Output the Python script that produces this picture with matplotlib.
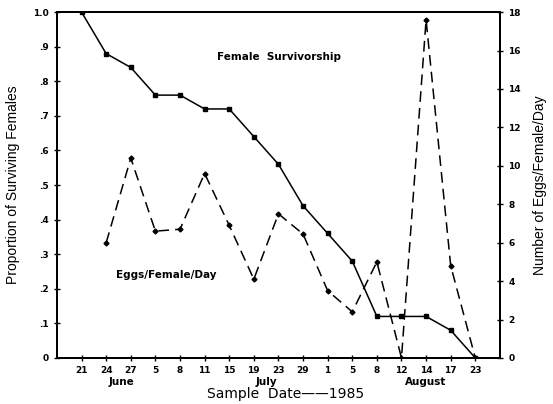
import matplotlib.pyplot as plt
import numpy as np

plt.rcParams.update({
    "font.family": ["DejaVu Sans"],
    "font.size": 7,
})

dates = ["21", "24", "27", "5", "8", "11", "15", "19", "23", "29",
         "1", "5", "8", "12", "14", "17", "23"]
survival = [1.0, 0.88, 0.84, 0.76, 0.76, 0.72, 0.72, 0.64, 0.56, 0.44,
            0.36, 0.28, 0.12, 0.12, 0.12, 0.08, 0.0]
# eggs start at the second sample date
eggs = [6.0, 10.4, 6.6, 6.7, 9.6, 6.9, 4.1, 7.5, 6.45,
        3.5, 2.4, 5.0, 0.0, 17.6, 4.8, 0.0]

x = np.arange(len(dates))

fig = plt.figure(figsize=(5.53, 4.04), dpi=100)
ax = fig.add_axes([0.103, 0.114, 0.801, 0.856])
ax2 = ax.twinx()

ax.plot(x, survival, color="black", lw=1.1, marker="s", ms=3)
ax2.plot(x[1:], eggs, color="black", lw=1.1, ls=(0, (7, 4)), marker="D", ms=2.5)

ax.set_xlim(-1, len(dates))
ax.set_ylim(0, 1.0)
ax2.set_ylim(0, 18)

ax.set_xticks(x)
ax.set_xticklabels(dates, fontweight="bold", fontsize=6.5)
ax.set_yticks(np.arange(0, 1.01, 0.1))
ax.set_yticklabels(["0", ".1", ".2", ".3", ".4", ".5", ".6", ".7", ".8", ".9", "1.0"],
                   fontweight="bold", fontsize=6.5)
ax2.set_yticks(np.arange(0, 19, 2))
ax2.set_yticklabels([str(v) for v in range(0, 19, 2)], fontweight="bold", fontsize=6.5)

for a in (ax, ax2):
    a.tick_params(direction="inout", length=5, width=1)
    for s in a.spines.values():
        s.set_linewidth(1.4)

ax.set_ylabel("Proportion of Surviving Females", fontsize=10,
              family="Liberation Sans", labelpad=9)
ax2.set_ylabel("Number of Eggs/Female/Day", fontsize=10,
               family="Liberation Sans", labelpad=9)

ax.text(5.5, 0.87, "Female  Survivorship", fontsize=7.5, fontweight="bold", ha="left", va="center")
ax.text(1.4, 0.24, "Eggs/Female/Day", fontsize=7.5, fontweight="bold", ha="left", va="center")

for pos, name in [(1.6, "June"), (7.5, "July"), (14.0, "August")]:
    ax.text(pos, -0.07, name, fontsize=7.5, fontweight="bold", ha="center", va="center",
            transform=ax.get_xaxis_transform())
ax.text(8.3, -0.105, "Sample  Date——1985", fontsize=10, ha="center", va="center",
        transform=ax.get_xaxis_transform())

fig.savefig("out.png", dpi=100)
